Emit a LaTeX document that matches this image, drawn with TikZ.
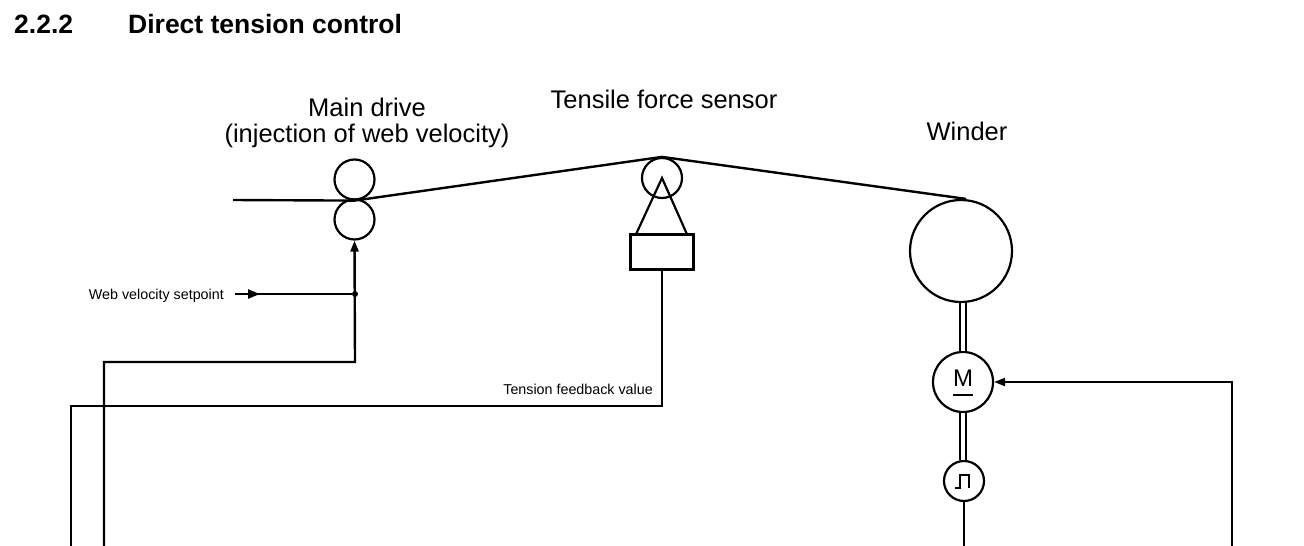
\documentclass[tikz,border=0pt]{standalone}
\usepackage{fontspec}
\setmainfont{Liberation Sans}
\usetikzlibrary{arrows.meta,calc}
\newcommand\bigLbl{\fontsize{25.5}{30}\selectfont}
\newcommand\smallLbl{\fontsize{14.3}{17}\selectfont}
\newcommand\titleLbl{\fontsize{26.5}{31}\selectfont\bfseries}
\newcommand\motorLbl{\fontsize{24}{28}\selectfont}
\begin{document}
\begin{tikzpicture}[x=1pt,y=-1pt,
  wire/.style={line width=2.4pt},
  ring/.style={circle,draw,line width=2.2pt,inner sep=0pt},
  arr/.style={wire,-{Triangle[length=11pt,width=8pt]}},
  shaft/.style={double,double distance=3.4pt,line width=2.1pt},
  lbl/.style={font=\bigLbl,inner sep=0pt,anchor=base},
  slbl/.style={font=\smallLbl,inner sep=0pt},
]
\useasboundingbox (0,0) rectangle (1304,546);

% title
\node[font=\titleLbl,anchor=base west,inner sep=0pt] (tnum) at (14,33) {2.2.2};
\node[font=\titleLbl,anchor=base west,inner sep=0pt] (ttxt) at (128,33) {Direct tension control};

% labels
\node[lbl] (lmain) at (367,116) {Main drive};
\node[lbl] (linj) at (367,142) {(injection of web velocity)};
\node[lbl] (lsens) at (664,108) {Tensile force sensor};
\node[lbl] (lwind) at (967,140) {Winder};

% main drive rollers
\node[ring,minimum size=40pt] (rollA) at (354.5,179.5) {};
\node[ring,minimum size=40pt] (rollB) at (354.5,219.5) {};

% tensile force sensor
\node[ring,minimum size=40pt] (sensor) at (662,178) {};
\node[draw,line width=2.2pt,minimum width=63pt,minimum height=35pt,inner sep=0pt] (sbox) at (662,252) {};
\draw[line width=2.2pt,line join=miter] ($(sbox.north west)+(7,0)$) -- (sensor.center) -- ($(sbox.north east)+(-8,0)$);

% winder, motor, encoder
\node[ring,minimum size=102pt] (winder) at (961,251) {};
\node[ring,minimum size=60pt] (motor) at (963,382) {};
\node[font=\motorLbl,anchor=base,inner sep=0pt] (mtxt) at (963,386) {M};
\draw[line width=2.2pt] (953,395) -- (973,395);
\node[ring,minimum size=40pt] (enc) at (964,481) {};
\draw[line width=2.4pt,line join=miter] ($(enc.center)+(-9,7)$) -- ++(5,0) -- ++(0,-13) -- ++(9,0) -- ++(0,13);

\draw[shaft] (motor.north |- winder.south) -- (motor.north);
\draw[shaft] (motor.south) -- (motor.south |- enc.north);
\coordinate (encEnd) at (964,546);
\draw[wire] (enc.south) -- (encEnd);

% web
\coordinate (webIn) at (233,200);
\draw[wire,line join=round] (webIn) -- (rollA.south) -- (sensor.north) -- ([xshift=5pt]winder.north);

% web velocity setpoint
\node[slbl,anchor=base east] (lwvs) at (224,299) {Web velocity setpoint};
\coordinate (wvs) at (235,294);
\node[circle,fill,inner sep=0pt,minimum size=6pt] (jn) at (355,294) {};
\draw[wire] (wvs) -- (jn);
\draw[wire,-{Triangle[length=12pt,width=9pt]}] (wvs) -- ++(25,0);
\coordinate (velEnd) at (104,546);
\coordinate (velCorner) at (355,362);
\draw[arr] (velEnd) |- (velCorner) -- (rollB.south);

% tension feedback
\node[slbl,anchor=base east] (ltfb) at (653,394) {Tension feedback value};
\coordinate (fbCorner) at (71,406);
\coordinate (fbEnd) at (71,546);
\draw[wire] (sbox.south) |- (fbCorner) -- (fbEnd);

% winder speed input
\coordinate (wsEnd) at (1232,546);
\draw[arr] (wsEnd) |- (motor.east);
\end{tikzpicture}
\end{document}
